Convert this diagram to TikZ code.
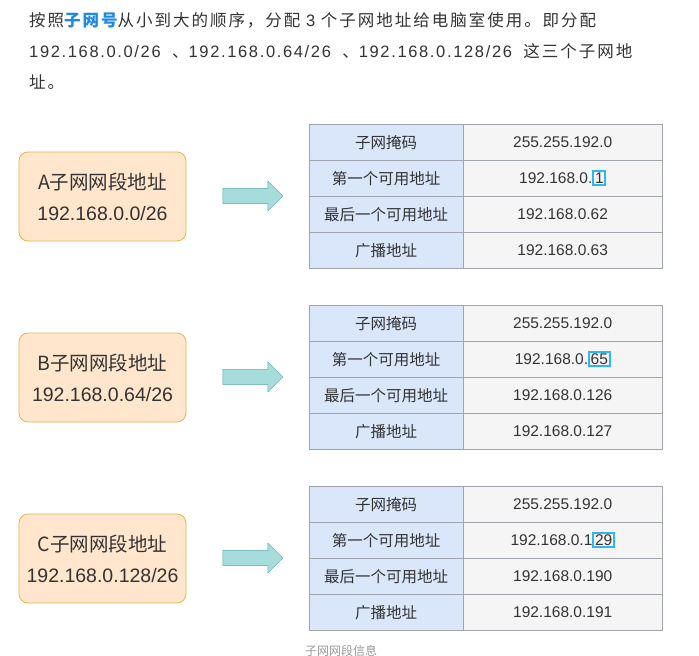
\documentclass[tikz,border=0pt]{standalone}
\usepackage{fontspec}
\setmainfont{Noto Sans CJK SC}
\newfontfamily\lat{Liberation Sans}
\newfontfamily\hcjk[LetterSpace=12]{Noto Sans CJK SC}
\newfontfamily\hlat[LetterSpace=10]{Liberation Sans}
\usetikzlibrary{shapes.arrows}
\definecolor{txt}{HTML}{333333}
\definecolor{blu}{HTML}{1E88E5}
\definecolor{hdr}{HTML}{DAE6FA}
\definecolor{cel}{HTML}{F5F5F5}
\definecolor{grd}{HTML}{A0A4AC}
\definecolor{orf}{HTML}{FFE6CC}
\definecolor{ord}{HTML}{E4B84A}
\definecolor{arf}{HTML}{A6DCDC}
\definecolor{ard}{HTML}{5AAAB0}
\definecolor{hlc}{HTML}{2BB8F0}
\newcommand{\hlbox}[1]{{\color{hlc}\setlength\fboxrule{1.8pt}\setlength\fboxsep{0.8pt}\fbox{\color{txt}#1}}}
\tikzset{
 lbl/.style={inner sep=0pt,font=\fontsize{16.5}{16.5}\selectfont\hcjk,text=txt},
 keycell/.style={draw=grd,fill=hdr,minimum width=154pt,minimum height=36pt,inner sep=0pt,font=\fontsize{15.5}{15.5}\selectfont,text=txt},
 valcell/.style={draw=grd,fill=cel,minimum width=199pt,minimum height=36pt,inner sep=0pt,font=\fontsize{15.5}{15.5}\selectfont\lat,text=txt},
 netbox/.style={draw=ord,fill=orf,rounded corners=9pt,line width=0.8pt,minimum width=167pt,minimum height=89pt,align=center,font=\fontsize{19.5}{31}\selectfont,text=txt},
 bigarrow/.style={single arrow,draw=ard,fill=arf,minimum width=30pt,single arrow head extend=7pt,single arrow tip angle=90,minimum height=60pt,inner sep=7pt}
}
\begin{document}
\begin{tikzpicture}[x=1pt,y=-1pt]
\useasboundingbox[fill=white] (0,0) rectangle (699,656);
\node[lbl,anchor=west] (t1) at (29,20) {按照{\color{blu}\bfseries 子网号}从小到大的顺序，分配 {\hlat 3} 个子网地址给电脑室使用。即分配};
\node[lbl,anchor=west] (t2) at (29,51) {{\hlat 192.168.0.0/26} \ 、{\hlat 192.168.0.64/26} \ 、{\hlat 192.168.0.128/26} \ 这三个子网地};
\node[lbl,anchor=west] (t3) at (29,82) {址。};
\foreach \t/\y/\ab/\net/\f/\l/\b in {A/124/A/0.0/0.{\hlbox{1}}/62/63, B/305/B/0.64/0.{\hlbox{65}}/126/127, C/486/C/0.128/0.1{\hlbox{29}}/190/191}{
 \node[keycell,anchor=north west] (k1\t) at (309,\y) {子网掩码};
 \node[valcell,anchor=north west] (v1\t) at (463,\y) {255.255.192.0};
 \node[keycell,anchor=north west] (k2\t) at (309,\y+36) {第一个可用地址};
 \node[valcell,anchor=north west] (v2\t) at (463,\y+36) {192.168.\f};
 \node[keycell,anchor=north west] (k3\t) at (309,\y+72) {最后一个可用地址};
 \node[valcell,anchor=north west] (v3\t) at (463,\y+72) {192.168.0.\l};
 \node[keycell,anchor=north west] (k4\t) at (309,\y+108) {广播地址};
 \node[valcell,anchor=north west] (v4\t) at (463,\y+108) {192.168.0.\b};
 \node[netbox] (n\t) at (102.5,\y+72.5) {\ab 子网网段地址\\{\lat 192.168.\net/26}};
 \node[bigarrow] (a\t) at (249,\y+72) {};
}
\node[font=\fontsize{12}{12}\selectfont,text=gray!80,anchor=north] (cap) at (341,642) {子网网段信息};
\end{tikzpicture}
\end{document}
